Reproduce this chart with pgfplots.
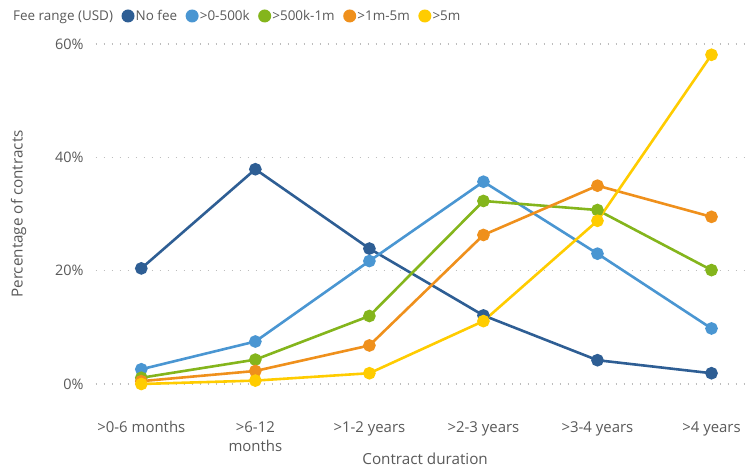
\documentclass[border=0pt]{standalone}
\usepackage{pgfplots}
\pgfplotsset{compat=1.18}
\usepackage{fontspec}
\setmainfont{Open Sans}

\definecolor{txtgray}{HTML}{595959}
\definecolor{gridgray}{HTML}{BDBDBD}
\definecolor{nofee}{HTML}{2E5E94}
\definecolor{lowfee}{HTML}{4A96D2}
\definecolor{midfee}{HTML}{84B51C}
\definecolor{highfee}{HTML}{EF901C}
\definecolor{topfee}{HTML}{FFCC00}

\begin{document}
\begin{tikzpicture}
  \useasboundingbox (-95.7bp,-91bp) rectangle (652.3bp,384bp);
  \begin{axis}[
      at={(0,0)}, anchor=south west,
      scale only axis,
      width=652.3bp, height=340bp,
      xmin=-0.4, xmax=5.32,
      ymin=0, ymax=60,
      clip=false,
      axis line style={draw=none},
      major tick length=0pt,
      xtick={0,1,2,3,4,5},
      xticklabels={{>0-6 months},{\begin{tabular}[t]{@{}c@{}}>6-12\\months\end{tabular}},{>1-2 years},{>2-3 years},{>3-4 years},{>4 years}},
      ytick={0,20,40,60},
      yticklabels={0\%,20\%,40\%,60\%},
      ymajorgrids,
      grid style={gridgray, line width=1.2bp, dash pattern=on 1.4bp off 6.6bp},
      ticklabel style={text=txtgray},
      xticklabel style={font=\fontsize{15}{19.5}\selectfont, anchor=base, yshift=-48.5bp, inner sep=0pt},
      yticklabel style={font=\fontsize{14.5}{17}\selectfont, anchor=east, inner sep=0pt, xshift=-12bp},
      xlabel={Contract duration},
      ylabel={Percentage of contracts},
      label style={font=\fontsize{15.3}{18}\selectfont, text=txtgray},
      xlabel style={at={(axis description cs:0.505,-0.238)}, anchor=base, inner sep=0pt},
      ylabel style={at={(axis description cs:-0.118,0.5)}, anchor=center, inner sep=0pt},
      every axis plot/.append style={line width=2.6bp, mark=*, mark size=5bp},
      legend columns=-1,
      legend image code/.code={\fill[#1, draw=none] (6.5bp,0bp) circle (6.5bp);},
      legend style={
        at={(axis description cs:-0.1283,1.0824)}, anchor=west,
        draw=none, fill=none, inner sep=0pt, outer sep=0pt,
        font=\fontsize{13.5}{16}\selectfont, text=txtgray,
        nodes={inner sep=0pt},
        /tikz/every odd column/.append style={column sep=1.2bp},
        /tikz/every even column/.append style={column sep=8.5bp},
      },
    ]
    \addlegendimage{empty legend}
    \addlegendentry{Fee range (USD)\hspace{10bp}}

    \addplot[nofee, mark options={fill=nofee, draw=nofee}] coordinates {
      (0,20.4) (1,37.9) (2,23.9) (3,12.1) (4,4.2) (5,1.9)
    };
    \addlegendentry{No fee}

    \addplot[lowfee, mark options={fill=lowfee, draw=lowfee}] coordinates {
      (0,2.6) (1,7.5) (2,21.7) (3,35.7) (4,23.0) (5,9.8)
    };
    \addlegendentry{>0-500k}

    \addplot[midfee, mark options={fill=midfee, draw=midfee}] coordinates {
      (0,1.1) (1,4.3) (2,12.0) (3,32.3) (4,30.7) (5,20.1)
    };
    \addlegendentry{>500k-1m}

    \addplot[highfee, mark options={fill=highfee, draw=highfee}] coordinates {
      (0,0.5) (1,2.3) (2,6.8) (3,26.3) (4,35.0) (5,29.5)
    };
    \addlegendentry{>1m-5m}

    \addplot[topfee, mark options={fill=topfee, draw=topfee}] coordinates {
      (0,0.0) (1,0.6) (2,1.9) (3,11.1) (4,28.8) (5,58.1)
    };
    \addlegendentry{>5m}
  \end{axis}
\end{tikzpicture}
\end{document}
